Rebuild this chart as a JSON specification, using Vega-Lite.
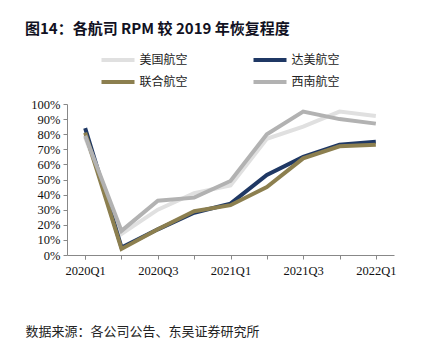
{
  "$schema": "https://vega.github.io/schema/vega-lite/v6.json",
  "autosize": "none",
  "width": 327,
  "height": 151,
  "padding": {"left": 67, "top": 104, "right": 27, "bottom": 99},
  "background": "white",
  "title": {
    "text": "图14：各航司 RPM 较 2019 年恢复程度",
    "anchor": "start",
    "frame": "group",
    "font": "Noto Sans CJK SC",
    "fontSize": 15,
    "fontWeight": "bold",
    "color": "#111122",
    "dx": -42,
    "offset": 16
  },
  "data": {
    "values": [
      {"q": "2020Q1", "airline": "美国航空", "v": 0.78},
      {"q": "2020Q2", "airline": "美国航空", "v": 0.14},
      {"q": "2020Q3", "airline": "美国航空", "v": 0.30},
      {"q": "2020Q4", "airline": "美国航空", "v": 0.41},
      {"q": "2021Q1", "airline": "美国航空", "v": 0.46},
      {"q": "2021Q2", "airline": "美国航空", "v": 0.77},
      {"q": "2021Q3", "airline": "美国航空", "v": 0.85},
      {"q": "2021Q4", "airline": "美国航空", "v": 0.95},
      {"q": "2022Q1", "airline": "美国航空", "v": 0.92},
      {"q": "2020Q1", "airline": "达美航空", "v": 0.84},
      {"q": "2020Q2", "airline": "达美航空", "v": 0.05},
      {"q": "2020Q3", "airline": "达美航空", "v": 0.17},
      {"q": "2020Q4", "airline": "达美航空", "v": 0.28},
      {"q": "2021Q1", "airline": "达美航空", "v": 0.34},
      {"q": "2021Q2", "airline": "达美航空", "v": 0.53},
      {"q": "2021Q3", "airline": "达美航空", "v": 0.65},
      {"q": "2021Q4", "airline": "达美航空", "v": 0.73},
      {"q": "2022Q1", "airline": "达美航空", "v": 0.75},
      {"q": "2020Q1", "airline": "联合航空", "v": 0.81},
      {"q": "2020Q2", "airline": "联合航空", "v": 0.04},
      {"q": "2020Q3", "airline": "联合航空", "v": 0.17},
      {"q": "2020Q4", "airline": "联合航空", "v": 0.29},
      {"q": "2021Q1", "airline": "联合航空", "v": 0.33},
      {"q": "2021Q2", "airline": "联合航空", "v": 0.45},
      {"q": "2021Q3", "airline": "联合航空", "v": 0.64},
      {"q": "2021Q4", "airline": "联合航空", "v": 0.72},
      {"q": "2022Q1", "airline": "联合航空", "v": 0.73},
      {"q": "2020Q1", "airline": "西南航空", "v": 0.79},
      {"q": "2020Q2", "airline": "西南航空", "v": 0.16},
      {"q": "2020Q3", "airline": "西南航空", "v": 0.36},
      {"q": "2020Q4", "airline": "西南航空", "v": 0.38},
      {"q": "2021Q1", "airline": "西南航空", "v": 0.49},
      {"q": "2021Q2", "airline": "西南航空", "v": 0.80},
      {"q": "2021Q3", "airline": "西南航空", "v": 0.95},
      {"q": "2021Q4", "airline": "西南航空", "v": 0.90},
      {"q": "2022Q1", "airline": "西南航空", "v": 0.87}
    ]
  },
  "mark": {"type": "line", "strokeWidth": 4, "strokeJoin": "miter", "strokeCap": "butt"},
  "encoding": {
    "x": {
      "field": "q",
      "type": "ordinal",
      "sort": null,
      "scale": {"type": "point", "padding": 0.5},
      "axis": {
        "title": "数据来源：各公司公告、东吴证券研究所",
        "titleFont": "Noto Sans CJK SC",
        "titleFontSize": 13,
        "titleFontWeight": "normal",
        "titleColor": "#222222",
        "titleAnchor": "start",
        "titleAlign": "left",
        "titleBaseline": "alphabetic",
        "titleX": -42,
        "titleY": 80,
        "labelAngle": 0,
        "labelFont": "Liberation Serif",
        "labelFontSize": 12.5,
        "labelColor": "#111111",
        "labelPadding": 5,
        "labelExpr": "indexof(['2020Q1','2020Q3','2021Q1','2021Q3','2022Q1'], datum.value) >= 0 ? datum.value : ''",
        "domainColor": "#888888",
        "tickColor": "#888888",
        "tickSize": 4,
        "tickBand": "extent",
        "grid": false
      }
    },
    "y": {
      "field": "v",
      "type": "quantitative",
      "scale": {"domain": [0, 1]},
      "axis": {
        "title": null,
        "format": ".0%",
        "values": [0, 0.1, 0.2, 0.3, 0.4, 0.5, 0.6, 0.7, 0.8, 0.9, 1],
        "labelFont": "Liberation Serif",
        "labelFontSize": 12.5,
        "labelColor": "#111111",
        "labelPadding": 3,
        "domainColor": "#888888",
        "tickColor": "#888888",
        "tickSize": 4,
        "grid": false
      }
    },
    "color": {
      "field": "airline",
      "type": "nominal",
      "sort": ["美国航空", "达美航空", "联合航空", "西南航空"],
      "scale": {
        "domain": ["美国航空", "达美航空", "联合航空", "西南航空"],
        "range": ["#e0e0e0", "#1f3864", "#8c7f4f", "#b2b2b2"]
      },
      "legend": {
        "title": null,
        "orient": "none",
        "legendX": 44,
        "legendY": -51,
        "columns": 2,
        "direction": "horizontal",
        "columnPadding": 57,
        "rowPadding": 6,
        "symbolType": "M-3.3,0H3.3",
        "symbolSize": 100,
        "symbolStrokeWidth": 4,
        "labelFont": "Noto Sans CJK SC",
        "labelFontSize": 12,
        "labelColor": "#222222",
        "labelOffset": 14.5
      }
    }
  },
  "config": {"view": {"stroke": null}}
}
